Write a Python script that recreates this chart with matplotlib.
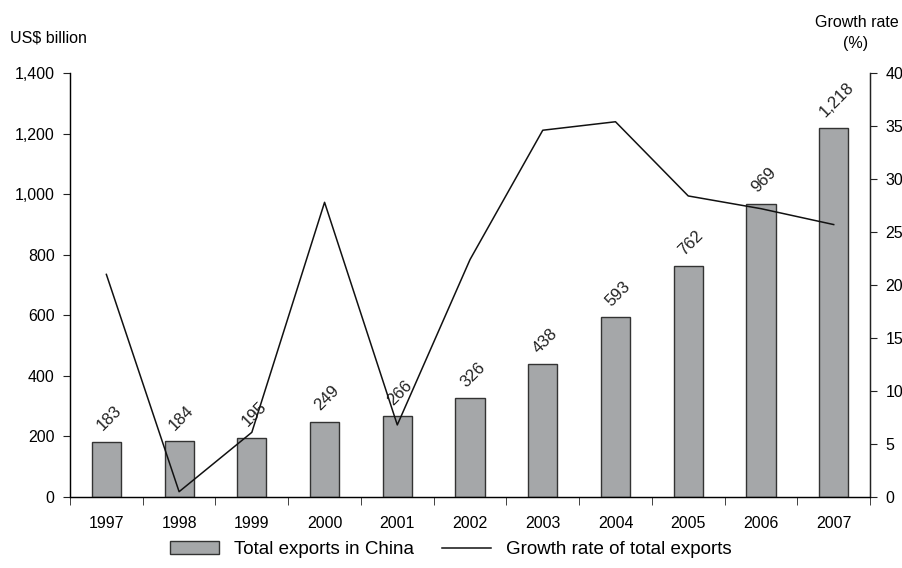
import numpy as np
import matplotlib.pyplot as plt
from matplotlib.patches import Patch
from matplotlib.lines import Line2D

plt.rcParams['font.family'] = ['Liberation Sans', 'DejaVu Sans']

years = ["1997", "1998", "1999", "2000", "2001", "2002", "2003", "2004", "2005", "2006", "2007"]
exports = [183, 184, 195, 249, 266, 326, 438, 593, 762, 969, 1218]
growth = [21.0, 0.5, 6.1, 27.8, 6.8, 22.4, 34.6, 35.4, 28.4, 27.2, 25.7]

fig = plt.figure(figsize=(9.02, 5.68), dpi=100)
ax = fig.add_axes([0.0776, 0.125, 0.887, 0.7465])
x = np.arange(len(years))

# bars for export totals, value written at 45 degrees above each
ax.bar(x, exports, width=0.4, color="#a5a7a9", edgecolor="#333333", linewidth=1.0, zorder=2)
for xi, v in zip(x, exports):
    ax.annotate(f"{v:,}", (xi, v), xytext=(2, 6), textcoords="offset points",
                ha="center", va="bottom", rotation=45, fontsize=12, color="#222222")

ax.set_xlim(-0.5, len(years) - 0.5)
ax.set_ylim(0, 1400)
ax.set_yticks(range(0, 1401, 200))
ax.set_yticklabels([f"{v:,}" for v in range(0, 1401, 200)])
ax.set_xticks(x)
ax.set_xticklabels(years)
ax.set_xticks(np.arange(-0.5, len(years)), minor=True)
ax.tick_params(axis="x", which="major", length=0, pad=14, labelsize=11.5)
ax.tick_params(axis="x", which="minor", length=6, direction="out", color="#222222")
ax.tick_params(axis="y", length=5, direction="out", labelsize=11.5, pad=6, color="#222222")
ax.spines["top"].set_visible(False)
for s in ["left", "right", "bottom"]:
    ax.spines[s].set_color("#222222")
    ax.spines[s].set_linewidth(1.0)

# growth rate on the right-hand scale
ax2 = ax.twinx()
ax2.plot(x, growth, color="#111111", linewidth=1.1, zorder=3)
ax2.set_ylim(0, 40)
ax2.set_yticks(range(0, 41, 5))
ax2.tick_params(axis="y", length=5, direction="out", labelsize=11.5, pad=6, color="#222222")
ax2.spines["top"].set_visible(False)
ax2.spines["right"].set_color("#222222")

fig.text(0.011, 0.933, "US$ billion", fontsize=11.5, ha="left", va="center")
fig.text(0.996, 0.961, "Growth rate", fontsize=11.5, ha="right", va="center")
fig.text(0.948, 0.924, "(%)", fontsize=11.5, ha="center", va="center")

handles = [Patch(facecolor="#a5a7a9", edgecolor="#333333", linewidth=1.0),
           Line2D([0], [0], color="#111111", linewidth=1.1)]
fig.legend(handles, ["Total exports in China", "Growth rate of total exports"],
           loc="center", bbox_to_anchor=(0.5, 0.032), ncol=2, frameon=False,
           fontsize=13.5, handlelength=2.6, handleheight=0.7, columnspacing=1.5, handletextpad=0.8)

fig.savefig("out.png", dpi=100)
